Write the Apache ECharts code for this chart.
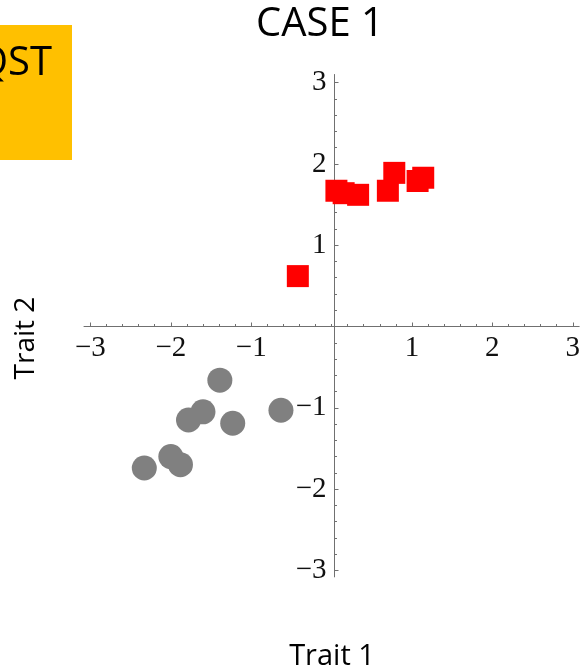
<!DOCTYPE html>
<html>
<head>
<meta charset="utf-8">
<script src="https://cdn.jsdelivr.net/npm/echarts@6/dist/echarts.min.js"></script>
<style>
html,body{margin:0;padding:0;background:#fff;}
#c{width:583px;height:671px;}
</style>
</head>
<body>
<div id="c"></div>
<script>
// ---- data ----
var titleText = "CASE 1";
var xName = "Trait 1";
var yName = "Trait 2";
var boxLabel = "QST";

var redX = [-0.42, 0.06, 0.15, 0.33, 0.70, 0.78, 1.07, 1.14];
var redY = [0.62, 1.67, 1.64, 1.62, 1.67, 1.89, 1.79, 1.83];

var grayX = [-1.39, -1.60, -1.78, -1.23, -0.63, -2.00, -1.88, -2.33];
var grayY = [-0.66, -1.05, -1.15, -1.19, -1.03, -1.60, -1.70, -1.74];

var majorTicks = [-3, -2, -1, 1, 2, 3];
var minorTicks = [-3, -2.8, -2.6, -2.4, -2.2, -2, -1.8, -1.6, -1.4, -1.2, -1, -0.8, -0.6, -0.4, -0.2, 0,
                  0.2, 0.4, 0.6, 0.8, 1, 1.2, 1.4, 1.6, 1.8, 2, 2.2, 2.4, 2.6, 2.8, 3];

var xRange = [-3.08, 3.08];
var yRange = [-3.08, 3.1];

function pairs(xs, ys) { return xs.map(function (v, i) { return [v, ys[i]]; }); }

// layout
var G = { left: 84, width: 501, top: 74.5, height: 502.4 };
// offsets so that each axis sits on the other's zero
var xOffset = -G.height * (0 - yRange[0]) / (yRange[1] - yRange[0]);
var yOffset = -G.width * (0 - xRange[0]) / (xRange[1] - xRange[0]);

var axisColor = '#707070';
var labelStyle = { fontFamily: 'Liberation Serif', fontSize: 29, color: '#111111' };

function mainAxis(pos, isX) {
  var r = isX ? xRange : yRange;
  return {
    type: 'value', position: pos, offset: isX ? xOffset : yOffset,
    min: r[0], max: r[1],
    splitLine: { show: false },
    axisLine: { show: true, onZero: false, lineStyle: { color: axisColor, width: 1 } },
    axisTick: { show: true, inside: true, length: 4, customValues: majorTicks, lineStyle: { color: axisColor } },
    axisLabel: Object.assign({ show: true, margin: isX ? 7 : 8, customValues: majorTicks,
      formatter: function (v) { return v < 0 ? '\u2212' + Math.abs(v) : String(v); } }, labelStyle)
  };
}
function minorAxis(pos, isX) {
  var r = isX ? xRange : yRange;
  return {
    type: 'value', position: pos, offset: isX ? xOffset : yOffset,
    min: r[0], max: r[1],
    splitLine: { show: false },
    axisLine: { show: false, onZero: false },
    axisTick: { show: true, inside: true, length: 2.5, customValues: minorTicks, lineStyle: { color: axisColor } },
    axisLabel: { show: false }
  };
}

var chart = echarts.init(document.getElementById('c'), null, { renderer: 'canvas' });
chart.setOption({
  backgroundColor: '#ffffff',
  animation: false,
  grid: { left: G.left, width: G.width, top: G.top, height: G.height, containLabel: false },
  xAxis: [mainAxis('bottom', true), minorAxis('bottom', true)],
  yAxis: [mainAxis('left', false), minorAxis('left', false)],
  graphic: [
    { type: 'rect', shape: { x: 0, y: 25, width: 72, height: 135 }, style: { fill: '#FFC000' }, z: 1 },
    { type: 'text', x: -23, y: 64, style: { text: boxLabel, font: '40px "Open Sans"', fill: '#000', align: 'left', verticalAlign: 'middle' }, z: 2 },
    { type: 'text', x: 320, y: 25, style: { text: titleText, font: '40px "Open Sans"', fill: '#000', align: 'center', verticalAlign: 'middle' } },
    { type: 'text', x: 332, y: 657, style: { text: xName, font: '29px "Open Sans"', fill: '#000', align: 'center', verticalAlign: 'middle' } },
    { type: 'text', x: 26, y: 338, rotation: Math.PI / 2, style: { text: yName, font: '28px "Open Sans"', fill: '#000', align: 'center', verticalAlign: 'middle' } }
  ],
  series: [
    { type: 'scatter', xAxisIndex: 0, yAxisIndex: 0, data: pairs(redX, redY), symbol: 'rect', symbolSize: 22,
      itemStyle: { color: '#FF0000', opacity: 1 }, z: 3 },
    { type: 'scatter', xAxisIndex: 0, yAxisIndex: 0, data: pairs(grayX, grayY), symbol: 'circle', symbolSize: 25,
      itemStyle: { color: '#808080', opacity: 1 }, z: 3 }
  ]
});
</script>
</body>
</html>
